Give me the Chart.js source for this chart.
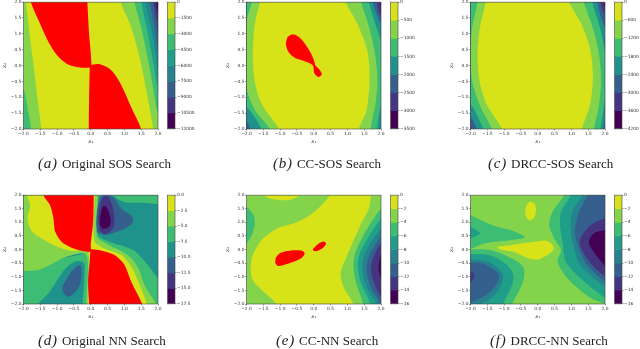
<!DOCTYPE html>
<html>
<head>
<meta charset="utf-8">
<script src="https://cdn.jsdelivr.net/npm/chart.js@4"></script>
<style>
  html, body { margin: 0; padding: 0; background: #fff; }
  #page { position: relative; width: 640px; height: 349px; overflow: hidden; filter: blur(0.4px); }
  canvas { position: absolute; }
  .cap { position: absolute; font-family: "Liberation Serif", serif; font-size: 13px; line-height: 16px; white-space: nowrap; color: #222; }
  .cap i { font-size: 15px; margin-right: 4px; letter-spacing: 0.8px; }
</style>
</head>
<body>
<div id="page"></div>
<script>
/* ---- data: tick labels, contour levels, captions ---- */
const axisTicks = [-2, -1.5, -1, -0.5, 0, 0.5, 1, 1.5, 2];
const axisLabels = ['−2.0', '−1.5', '−1.0', '−0.5', '0.0', '0.5', '1.0', '1.5', '2.0'];

const levelsA = [0, -1500, -3000, -4500, -6000, -7500, -9000, -10500, -12000];
const levelsB = [0, -500, -1000, -1500, -2000, -2500, -3000, -3500];
const levelsC = [0, -600, -1200, -1800, -2400, -3000, -3600, -4200];
const levelsD = [0, -2.5, -5, -7.5, -10, -12.5, -15, -17.5];
const levelsE = [0, -2, -4, -6, -8, -10, -12, -14, -16];
const levelsF = [0, -2, -4, -6, -8, -10, -12, -14, -16];

const labelsA = ['0', '−1500', '−3000', '−4500', '−6000', '−7500', '−9000', '−10500', '−12000'];
const labelsB = ['0', '−500', '−1000', '−1500', '−2000', '−2500', '−3000', '−3500'];
const labelsC = ['0', '−600', '−1200', '−1800', '−2400', '−3000', '−3600', '−4200'];
const labelsD = ['0.0', '−2.5', '−5.0', '−7.5', '−10.0', '−12.5', '−15.0', '−17.5'];
const labelsE = ['0', '−2', '−4', '−6', '−8', '−10', '−12', '−14', '−16'];
const labelsF = ['0', '−2', '−4', '−6', '−8', '−10', '−12', '−14', '−16'];

const captionLetters = ['(a)', '(b)', '(c)', '(d)', '(e)', '(f)'];
const captionTexts = ['Original SOS Search', 'CC-SOS Search', 'DRCC-SOS Search', 'Original NN Search', 'CC-NN Search', 'DRCC-NN Search'];

/* contour regions, painted in order: [band, [[x1, x2], ...]]
   band counts from the top of the colorbar, R is the red unsafe set */
const R = -1;
const FULL = [[-2.2, 2.2], [2.2, 2.2], [2.2, -2.2], [-2.2, -2.2]];

const contoursA = [
  [1, FULL],
  [2, [[-2.2, -0.8], [-2, -0.75], [-1.85, -1.5], [-1.77, -2], [-1.77, -2.2], [-2.2, -2.2]]],
  [2, [[1.3, 2.2], [1.3, 2], [1.5, 1.2], [1.7, 0.2], [1.87, -0.8], [2, -1.5], [2.2, -1.7], [2.2, 2.2]]],
  [3, [[1.5, 2.2], [1.5, 2], [1.68, 1.1], [1.86, 0.1], [2, -0.7], [2.2, -1], [2.2, 2.2]]],
  [4, [[1.63, 2.2], [1.63, 2], [1.8, 1.15], [1.95, 0.25], [2, -0.1], [2.2, -0.2], [2.2, 2.2]]],
  [5, [[1.76, 2.2], [1.76, 2], [1.9, 1.2], [2, 0.55], [2.2, 0.4], [2.2, 2.2]]],
  [6, [[1.86, 2.2], [1.86, 2], [1.97, 1.35], [2, 1.1], [2.2, 1], [2.2, 2.2]]],
  [7, [[1.95, 2.2], [1.95, 2], [2, 1.65], [2.2, 1.6], [2.2, 2.2]]],
  [0, [[-1.95, 2.2], [-1.93, 2], [-1.82, 1], [-1.7, 0], [-1.59, -1], [-1.47, -2], [-1.47, -2.2], [1.86, -2.2], [1.86, -2], [1.65, -0.78], [1.45, 0.27], [1.2, 1.22], [0.89, 2], [0.89, 2.2]]],
  [R, [[-1.78, 2.2], [-1.78, 2], [-1.51, 1.33], [-1.26, 0.75], [-1.01, 0.33], [-0.72, 0.06], [-0.37, -0.05], [-0.03, -0.06], [0.02, 0.06], [-0.05, 1.01], [-0.1, 2], [-0.1, 2.2]]],
  [R, [[-0.03, 0.01], [0.27, 0.04], [0.61, -0.15], [0.91, -0.62], [1.2, -1.31], [1.5, -2], [1.5, -2.2], [-0.06, -2.2], [-0.06, -2], [-0.05, -0.99]]]
];

const contoursB = [
  [6, FULL],
  [5, [[-2.2, 2.2], [-2.2, -2.2], [2.2, -2.2], [2.2, 1.8], [2, 1.85], [1.98, 2], [1.98, 2.2]]],
  [4, [[-2.2, 2.2], [-2.2, -1.9], [-2, -1.9], [-1.97, -2], [-1.97, -2.2], [2.2, -2.2], [2.2, 1.55], [2, 1.55], [1.88, 2], [1.88, 2.2]]],
  [3, [[-2.2, 2.2], [-2.2, -1.75], [-2, -1.75], [-1.89, -2], [-1.89, -2.2], [2.2, -2.2], [2.2, 1.2], [2, 1.3], [1.76, 2], [1.76, 2.2]]],
  [2, [[-2.2, 2.2], [-2.2, -1.3], [-2, -1.3], [-1.55, -2], [-1.55, -2.2], [1.88, -2.2], [1.88, -2], [2, -1.2], [2.2, -0.4], [2.2, 0.5], [2, 0.8], [1.64, 2], [1.64, 2.2]]],
  [1, [[-1.84, 2.2], [-1.84, 2], [-2, 1.4], [-2.07, 0.4], [-2, -0.7], [-1.75, -1.4], [-1.3, -2], [-1.3, -2.2], [1.69, -2.2], [1.69, -2], [1.85, -1.1], [1.89, -0.36], [1.8, 0.5], [1.62, 1.3], [1.41, 2], [1.41, 2.2]]],
  [0, [[-1.6, 2.2], [-1.6, 2], [-1.75, 1.33], [-1.81, 0.38], [-1.76, -0.46], [-1.55, -1.2], [-1.03, -2], [-1.03, -2.2], [1.34, -2.2], [1.34, -2], [1.57, -1.41], [1.66, -0.36], [1.59, 0.48], [1.29, 1.33], [0.95, 2], [0.95, 2.2]]],
  [R, [[-0.67, 0.98], [-0.55, 0.97], [-0.39, 0.85], [-0.23, 0.64], [-0.08, 0.38], [0.02, 0.12], [0.05, 0], [0.17, -0.13], [0.24, -0.27], [0.14, -0.36], [0.02, -0.25], [-0.03, 0.01], [-0.27, 0.14], [-0.57, 0.25], [-0.75, 0.43], [-0.83, 0.69], [-0.78, 0.9]]]
];

const contoursC = [
  [6, FULL],
  [5, [[-2.2, 2.2], [-2.2, -2.2], [2.2, -2.2], [2.2, 1.8], [2, 1.85], [1.96, 2], [1.96, 2.2]]],
  [4, [[-2.2, 2.2], [-2.2, -1.9], [-2, -1.9], [-1.96, -2], [-1.96, -2.2], [2.2, -2.2], [2.2, 1.55], [2, 1.6], [1.86, 2], [1.86, 2.2]]],
  [3, [[-2.2, 2.2], [-2.2, -1.6], [-2, -1.62], [-1.81, -2], [-1.81, -2.2], [1.96, -2.2], [1.96, -2], [2, -1.7], [2.2, -1.2], [2.2, 1.1], [2, 1.2], [1.76, 2], [1.76, 2.2]]],
  [2, [[-2.2, 2.2], [-2.2, -1.15], [-2, -1.2], [-1.62, -2], [-1.62, -2.2], [1.86, -2.2], [1.86, -2], [1.98, -1.2], [2.05, -0.36], [2, 0.4], [1.85, 1.2], [1.62, 2], [1.62, 2.2]]],
  [1, [[-1.79, 2.2], [-1.79, 2], [-1.95, 1.2], [-2, 0.4], [-1.95, -0.5], [-1.7, -1.3], [-1.37, -2], [-1.37, -2.2], [1.67, -2.2], [1.67, -2], [1.83, -1.2], [1.88, -0.36], [1.8, 0.5], [1.62, 1.25], [1.37, 2], [1.37, 2.2]]],
  [0, [[-1.55, 2.2], [-1.55, 2], [-1.72, 1.2], [-1.79, 0.38], [-1.73, -0.5], [-1.5, -1.25], [-1.06, -2], [-1.06, -2.2], [1.31, -2.2], [1.31, -2], [1.55, -1.25], [1.64, -0.36], [1.56, 0.5], [1.3, 1.3], [0.94, 2], [0.94, 2.2]]]
];

const contoursD = [
  [3, FULL],
  [2, [[-2.2, -0.7], [-0.2, -0.15], [0, -0.15], [0, -2.2], [-2.2, -2.2]]],
  [3, [[-1.56, -2.2], [-1.56, -2], [-1.21, -1.54], [-0.82, -0.8], [-0.47, -0.44], [-0.2, -0.5], [-0.2, -1.29], [-0.25, -2], [-0.25, -2.2]]],
  [4, [[-0.84, -1.35], [-0.57, -0.8], [-0.32, -0.56], [-0.27, -0.93], [-0.37, -1.41], [-0.67, -1.74], [-0.84, -1.54]]],
  [2, [[0.65, 2.2], [0.7, 1.95], [1, 1.75], [1.5, 1.72], [2.2, 1.72], [2.2, 2.2]]],
  [2, [[0.24, 2.2], [0.22, 0.54], [0.56, 0.29], [1.25, -0.01], [1.65, -0.5], [2, -1.05], [2.2, -1.3], [2.2, -2.2], [0, -2.2], [0, 2.2]]],
  [4, [[0.14, 1.15], [0.27, 1.88], [0.46, 2.05], [0.71, 1.88], [0.91, 1.51], [1.23, 1.21], [1.23, 0.96], [0.91, 0.72], [0.46, 0.54], [0.19, 0.63]]],
  [5, [[0.22, 1.15], [0.28, 1.7], [0.4, 1.96], [0.52, 1.93], [0.63, 1.65], [0.7, 1.25], [0.66, 0.78], [0.41, 0.56], [0.25, 0.72]]],
  [6, [[0.27, 1.15], [0.36, 1.58], [0.47, 1.56], [0.59, 1.09], [0.54, 0.84], [0.36, 0.76], [0.27, 0.9]]],
  [1, [[-2.2, 2.2], [-2.2, -0.78], [-2, -0.78], [-1.56, -0.75], [-1.21, -0.56], [-0.72, -0.26], [-0.13, -0.2], [-0.13, -2.2], [0, -2.2], [0, 2.2]]],
  [1, [[0, 2.2], [0.2, 2.2], [0.18, 0.5], [0.5, 0.2], [1.1, -0.2], [1.4, -0.65], [1.6, -1.3], [1.94, -2], [1.94, -2.2], [0, -2.2]]],
  [0, [[-1.9, 2.2], [-1.9, 2], [-1.8, 1.63], [-1.88, 1.15], [-1.75, 0.66], [-1.46, 0.41], [-1.01, 0.11], [-0.62, -0.05], [-0.08, -0.1], [-0.08, -2.2], [0, -2.2], [0, 2.2]]],
  [0, [[0, 2.2], [0.12, 2.2], [0.12, 2], [0.1, 0.35], [0.36, 0.07], [0.91, -0.2], [1.2, -0.62], [1.45, -1.29], [1.67, -2], [1.67, -2.2], [0, -2.2]]],
  [R, [[-1.41, 2.2], [-1.41, 2], [-1.21, 1.63], [-1.11, 1.15], [-1.06, 0.66], [-0.87, 0.29], [-0.57, 0.07], [-0.23, -0.05], [-0.01, -0.07], [0, 0.2], [0.07, 1], [0.09, 2], [0.09, 2.2]]],
  [R, [[-0.01, 0.02], [0.36, -0.05], [0.71, -0.2], [1, -0.56], [1.2, -1.17], [1.53, -2], [1.53, -2.2], [-0.05, -2.2], [-0.05, -2], [-0.08, -1.17], [-0.03, -0.44]]]
];

const contoursE = [
  [1, FULL],
  [2, [[-2.2, 1.6], [-2, 1.57], [-1.79, 1.27], [-1.75, 0.96], [-1.84, 0.54], [-2, 0.23], [-2.2, 0.1]]],
  [2, [[2.2, 1.7], [2, 1.51], [1.54, 0.66], [1.25, -0.07], [1.18, -0.56], [1.25, -1.17], [1.47, -2], [1.47, -2.2], [2.2, -2.2]]],
  [3, [[2.2, 1.4], [2, 1.15], [1.64, 0.48], [1.39, -0.07], [1.31, -0.56], [1.39, -1.17], [1.69, -2], [1.69, -2.2], [2.2, -2.2]]],
  [4, [[2.2, 1.05], [2, 0.78], [1.69, 0.23], [1.49, -0.26], [1.44, -0.68], [1.54, -1.29], [1.86, -2], [1.86, -2.2], [2.2, -2.2]]],
  [5, [[2.2, 0.75], [2, 0.48], [1.76, 0.05], [1.61, -0.38], [1.57, -0.8], [1.71, -1.41], [1.98, -2], [1.98, -2.2], [2.2, -2.2]]],
  [6, [[2.2, 0.5], [2, 0.23], [1.83, -0.13], [1.72, -0.5], [1.72, -0.93], [1.88, -1.48], [2, -1.72], [2.2, -1.9]]],
  [7, [[2.2, -0.1], [2, -0.2], [1.95, -0.44], [1.93, -0.68], [1.95, -0.87], [2, -1.05], [2.2, -1.15]]],
  [0, [[-1.5, 2.2], [-1.5, 2], [-1.2, 1.85], [-0.75, 1.82], [-0.42, 2], [-0.42, 2.2]]],
  [0, [[0.48, 2.2], [0.48, 2], [0.02, 1.39], [-0.47, 1.02], [-1.06, 0.78], [-1.55, 0.35], [-1.84, -0.32], [-1.84, -1.05], [-1.55, -1.48], [-1.11, -2], [-1.11, -2.2], [1.18, -2.2], [1.18, -2], [0.9, -1.41], [0.8, -0.87], [1, -0.2], [1.39, 0.9], [1.64, 1.51], [1.7, 2], [1.7, 2.2]]],
  [R, [[-1.13, -0.3], [-1.0, -0.13], [-0.72, -0.04], [-0.35, -0.04], [-0.27, -0.15], [-0.4, -0.34], [-0.72, -0.5], [-1.06, -0.6], [-1.15, -0.48]]],
  [R, [[-0.02, 0.03], [0.12, 0.2], [0.29, 0.3], [0.37, 0.22], [0.27, 0.06], [0.07, -0.06], [-0.02, -0.04]]]
];

const contoursF = [
  [1, FULL],
  [2, [[-2.2, 1.35], [-2, 1.27], [-1.37, 0.9], [-0.69, 0.66], [-0.39, 0.44], [-0.78, 0.35], [-1.57, 0.23], [-2, 0.02], [-2.2, 0]]],
  [3, [[-2.2, 0.9], [-2, 0.84], [-1.72, 0.6], [-2, 0.41], [-2.2, 0.35]]],
  [2, [[-2.2, -0.01], [-1.47, -0.01], [-0.88, -0.26], [-0.44, -0.62], [-0.41, -1.05], [-0.54, -1.48], [-0.76, -2], [-0.76, -2.2], [-2.2, -2.2]]],
  [3, [[-2.2, -0.17], [-1.47, -0.2], [-0.98, -0.5], [-0.74, -0.87], [-0.76, -1.29], [-1.03, -2], [-1.03, -2.2], [-2.2, -2.2]]],
  [4, [[-2.2, -0.36], [-1.55, -0.42], [-1.15, -0.72], [-1.03, -1.02], [-1.15, -1.45], [-1.5, -1.9], [-1.7, -2], [-1.7, -2.2], [-2.2, -2.2]]],
  [5, [[-2.2, -0.48], [-1.67, -0.5], [-1.25, -0.78], [-1.14, -1], [-1.3, -1.4], [-1.65, -1.75], [-2, -1.95], [-2.2, -2]]],
  [6, [[-2.2, -0.7], [-2, -0.78], [-1.88, -0.96], [-2, -1.2], [-2.2, -1.25]]],
  [2, [[0.78, 2.2], [0.78, 2], [0.44, 1.39], [0.34, 0.9], [0.49, 0.41], [0.69, -0.01], [0.59, -0.44], [0.88, -1.05], [1.57, -1.78], [2, -2], [2.2, -2.2], [2.2, 2.2]]],
  [3, [[0.98, 2.2], [0.98, 2], [0.69, 1.39], [0.67, 0.78], [0.74, 0.29], [0.83, -0.44], [1.27, -1.05], [2, -1.78], [2.2, -1.9], [2.2, 2.2]]],
  [4, [[1.32, 2.2], [1.32, 2], [1.03, 1.39], [0.98, 0.66], [1.08, 0.05], [1.23, -0.5], [1.67, -1.05], [2, -1.35], [2.2, -1.5], [2.2, 2.2]]],
  [5, [[1.47, 2.2], [1.47, 2], [1.23, 1.39], [1.1, 0.66], [1.2, 0.11], [1.42, -0.5], [1.76, -0.93], [2, -1.17], [2.2, -1.3], [2.2, 2.2]]],
  [6, [[2.2, 1.2], [2, 1.15], [1.57, 0.9], [1.27, 0.41], [1.27, 0.11], [1.57, -0.5], [2, -0.99], [2.2, -1.1]]],
  [7, [[2.2, 0.8], [2, 0.72], [1.67, 0.6], [1.52, 0.29], [1.62, -0.01], [2, -0.59], [2.2, -0.7]]],
  [0, [[-0.23, 1.78], [-0.1, 1.7], [-0.05, 1.45], [-0.12, 1.15], [-0.27, 1.09], [-0.37, 1.29], [-0.34, 1.63]]],
  [0, [[-1.21, 0.11], [-0.78, 0.17], [-0.1, 0.29], [0.25, 0.32], [0.44, 0.17], [0.47, -0.01], [0.29, -0.2], [0, -0.37], [-0.29, -0.32], [-0.69, -0.1], [-1.13, 0]]]
];

/* ---- styles and layout ---- */
const palette7 = ['#d8e219', '#84d44b', '#3dbc74', '#20928c', '#35608d', '#453581', '#440154'];
const palette8 = ['#d8e219', '#84d44b', '#3dbc74', '#1f9e89', '#26828e', '#35608d', '#453581', '#440154'];
const RED = '#ff0000';

const rowTops = [2, 195];
const rowHeights = [127, 109];
const plotLefts = [23.5, 246.5, 470.5];
const plotWidth = 135.5;
const barOffset = 8.5;
const barWidth = 7.5;
const capLefts = [38, 273, 488, 38, 276, 490];
const capTops = [155, 332];

const panels = [
  { contours: contoursA, levels: levelsA, labels: labelsA },
  { contours: contoursB, levels: levelsB, labels: labelsB },
  { contours: contoursC, levels: levelsC, labels: labelsC },
  { contours: contoursD, levels: levelsD, labels: labelsD },
  { contours: contoursE, levels: levelsE, labels: labelsE },
  { contours: contoursF, levels: levelsF, labels: labelsF }
];

Chart.defaults.font.family = "'DejaVu Sans', sans-serif";
Chart.defaults.color = '#333';
Chart.defaults.animation = false;
Chart.defaults.responsive = false;

const tickFont = { size: 4.4 };
const frame = {
  id: 'frame',
  afterDatasetsDraw(chart) {
    const { ctx, chartArea: a } = chart;
    ctx.save();
    ctx.strokeStyle = '#444';
    ctx.lineWidth = 0.6;
    ctx.strokeRect(a.left, a.top, a.right - a.left, a.bottom - a.top);
    ctx.restore();
  }
};

function addCanvas(page, left, top, width, height) {
  const c = document.createElement('canvas');
  c.width = width; c.height = height;
  c.style.left = left + 'px'; c.style.top = top + 'px';
  page.appendChild(c);
  return c;
}

function renderContour(page, p, plotLeft, plotTop, plotH) {
  const pad = 22;
  const left = Math.floor(plotLeft - pad);
  const c = addCanvas(page, left, plotTop - 3, Math.ceil(plotWidth + pad + 3), plotH + 19);
  const colors = p.levels.length === 9 ? palette8 : palette7;
  // chart.js paints dataset 0 last, so hand the layers over back to front
  const layers = p.contours.slice().reverse();
  new Chart(c, {
    type: 'scatter',
    data: {
      datasets: layers.map(([band, pts]) => ({
        data: pts.map(([x, y]) => ({ x, y })),
        showLine: true, fill: 'shape', tension: 0.3,
        backgroundColor: band === R ? RED : colors[band],
        borderWidth: 0, pointRadius: 0
      }))
    },
    options: {
      layout: { padding: { left: plotLeft - pad - left, top: 3, right: 3, bottom: 0 } },
      plugins: { legend: { display: false }, tooltip: { enabled: false } },
      scales: {
        x: {
          type: 'linear', min: -2, max: 2,
          afterBuildTicks: s => { s.ticks = axisTicks.map(value => ({ value })); },
          afterFit: s => { s.height = 16; },
          grid: { drawOnChartArea: false, tickLength: 1.5, tickWidth: 0.5, color: '#444' },
          border: { display: false },
          ticks: { font: tickFont, padding: 0.5, maxRotation: 0, autoSkip: false, callback: (v, i) => axisLabels[i] },
          title: { display: true, text: 'x₁', font: { size: 5, style: 'italic' }, padding: { top: 0, bottom: 0 } }
        },
        y: {
          type: 'linear', min: -2, max: 2,
          afterBuildTicks: s => { s.ticks = axisTicks.map(value => ({ value })); },
          afterFit: s => { s.width = pad; },
          grid: { drawOnChartArea: false, tickLength: 1.5, tickWidth: 0.5, color: '#444' },
          border: { display: false },
          ticks: { font: tickFont, padding: 0.5, autoSkip: false, callback: (v, i) => axisLabels[i] },
          title: { display: true, text: 'x₂', font: { size: 5, style: 'italic' }, padding: { top: 0, bottom: 0 } }
        }
      }
    },
    plugins: [frame]
  });
}

function renderColorbar(page, p, barLeft, plotTop, plotH) {
  const left = Math.floor(barLeft);
  const c = addCanvas(page, left, plotTop - 3, 36, plotH + 6);
  const n = p.levels.length - 1;
  const colors = n === 8 ? palette8 : palette7;
  new Chart(c, {
    type: 'bar',
    data: {
      labels: [''],
      datasets: p.levels.slice(0, n).map((hi, i) => ({
        data: [[p.levels[i + 1], hi]],
        backgroundColor: colors[i],
        barPercentage: 1, categoryPercentage: 1, grouped: false, borderWidth: 0
      }))
    },
    options: {
      layout: { padding: { left: barLeft - left, top: 3, right: 0, bottom: 3 } },
      plugins: { legend: { display: false }, tooltip: { enabled: false } },
      scales: {
        x: { display: false },
        y: {
          position: 'right',
          min: p.levels[n], max: 0,
          afterBuildTicks: s => { s.ticks = p.levels.map(value => ({ value })).reverse(); },
          afterFit: s => { s.width = 36 - (barLeft - left) - barWidth; },
          grid: { drawOnChartArea: false, tickLength: 1.5, tickWidth: 0.5, color: '#444' },
          border: { display: false },
          ticks: {
            font: tickFont, padding: 0.5, autoSkip: false,
            callback: v => p.labels[p.levels.indexOf(v)]
          }
        }
      }
    },
    plugins: [frame]
  });
}

function addCaption(page, i, top) {
  const d = document.createElement('div');
  d.className = 'cap';
  d.style.left = capLefts[i] + 'px';
  d.style.top = top + 'px';
  const letter = document.createElement('i');
  letter.textContent = captionLetters[i];
  d.appendChild(letter);
  d.appendChild(document.createTextNode(captionTexts[i]));
  page.appendChild(d);
}

const page = document.getElementById('page');
panels.forEach((p, i) => {
  const row = i < 3 ? 0 : 1;
  const col = i % 3;
  renderContour(page, p, plotLefts[col], rowTops[row], rowHeights[row]);
  renderColorbar(page, p, plotLefts[col] + plotWidth + barOffset, rowTops[row], rowHeights[row]);
  addCaption(page, i, capTops[row]);
});
</script>
</body>
</html>
